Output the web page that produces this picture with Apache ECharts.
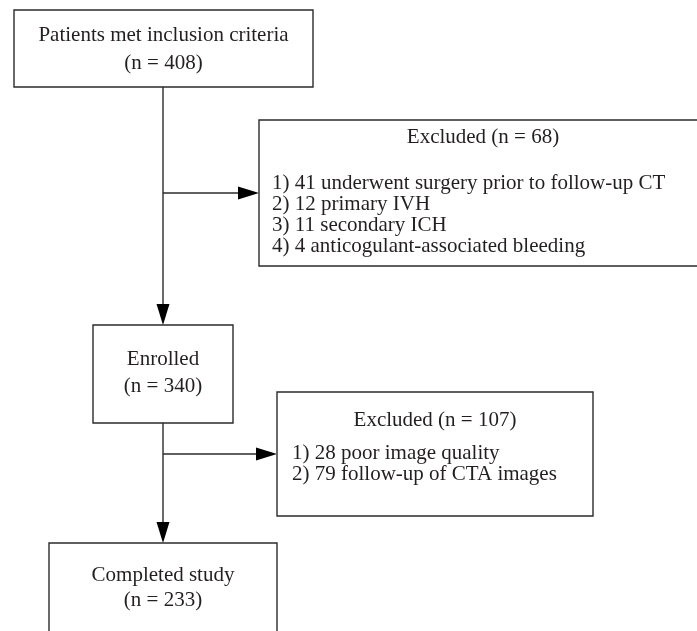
<!DOCTYPE html>
<html><head><meta charset="utf-8">
<script src="https://cdn.jsdelivr.net/npm/echarts@6/dist/echarts.min.js"></script>
<style>html,body{margin:0;padding:0;background:#fff}#c{width:697px;height:631px}</style>
</head><body><div id="c"></div>
<script>
// ---- data ----
const stageTitles = ['Patients met inclusion criteria', 'Enrolled', 'Completed study'];
const stageCounts = [408, 340, 233];
const excludedCounts = [68, 107];
const excl1Counts = [41, 12, 11, 4];
const excl1Labels = ['underwent surgery prior to follow-up CT', 'primary IVH', 'secondary ICH', 'anticogulant-associated bleeding'];
const excl2Counts = [28, 79];
const excl2Labels = ['poor image quality', 'follow-up of CTA images'];

// ---- layout (axis units = pixels) ----
const stageBoxes = [[14, 10, 313, 87], [93, 325, 233, 423], [49, 543, 277, 680]];
const stageTextY = [[35, 63], [359, 386], [575, 600]];
const exclBoxes = [[259, 120, 707, 266], [277, 392, 593, 516]];
const exclTitleY = [137, 420];
const exclItemX = [272, 292];
const exclItemY0 = [183, 453];
const itemStep = 21;
const spineX = 163;
const branchY = [193, 454];

const FONT = '21px "Liberation Serif", "DejaVu Serif", serif';
const TXT = '#231f20';
const LINE = '#2b2b2b';

function rectShape(api, b) {
  const p0 = api.coord([b[0], b[1]]), p1 = api.coord([b[2], b[3]]);
  return {x: p0[0], y: p0[1], width: p1[0] - p0[0], height: p1[1] - p0[1]};
}
function txt(api, s, x, y, align) {
  const p = api.coord([x, y]);
  return {type: 'text', style: {text: s, x: p[0], y: p[1], font: FONT, fill: TXT, align: align, verticalAlign: 'middle'}};
}

const boxItems = [];
stageTitles.forEach((t, i) => boxItems.push({kind: 'stage', i}));
excludedCounts.forEach((c, i) => boxItems.push({kind: 'excl', i}));

function renderBox(params, api) {
  const it = boxItems[params.dataIndex];
  const children = [];
  if (it.kind === 'stage') {
    const b = stageBoxes[it.i];
    children.push({type: 'rect', shape: rectShape(api, b), style: {fill: '#fff', stroke: LINE, lineWidth: 1.4}});
    const cx = (b[0] + b[2]) / 2;
    children.push(txt(api, stageTitles[it.i], cx, stageTextY[it.i][0], 'center'));
    children.push(txt(api, '(n = ' + stageCounts[it.i] + ')', cx, stageTextY[it.i][1], 'center'));
  } else {
    const b = exclBoxes[it.i];
    children.push({type: 'rect', shape: rectShape(api, b), style: {fill: '#fff', stroke: LINE, lineWidth: 1.4}});
    const cx = (b[0] + b[2]) / 2;
    children.push(txt(api, 'Excluded (n = ' + excludedCounts[it.i] + ')', cx, exclTitleY[it.i], 'center'));
    const counts = it.i === 0 ? excl1Counts : excl2Counts;
    const labels = it.i === 0 ? excl1Labels : excl2Labels;
    counts.forEach((c, k) => {
      children.push(txt(api, (k + 1) + ') ' + c + ' ' + labels[k], exclItemX[it.i], exclItemY0[it.i] + k * itemStep, 'left'));
    });
  }
  return {type: 'group', children};
}

// connectors: [from, to, arrow]
const links = [
  [[spineX, stageBoxes[0][3]], [spineX, stageBoxes[1][1]]],
  [[spineX, branchY[0]], [exclBoxes[0][0], branchY[0]]],
  [[spineX, stageBoxes[1][3]], [spineX, stageBoxes[2][1]]],
  [[spineX, branchY[1]], [exclBoxes[1][0], branchY[1]]]
];
function renderLink(params, api) {
  const l = links[params.dataIndex];
  const a = api.coord(l[0]), b = api.coord(l[1]);
  const dx = b[0] - a[0], dy = b[1] - a[1];
  const len = Math.hypot(dx, dy), ux = dx / len, uy = dy / len;
  const L = 21, W = 6.5;
  const bx = b[0] - ux * L, by = b[1] - uy * L;
  return {type: 'group', children: [
    {type: 'line', shape: {x1: a[0], y1: a[1], x2: bx, y2: by}, style: {stroke: LINE, lineWidth: 1.4}},
    {type: 'polygon', shape: {points: [[b[0], b[1]], [bx - uy * W, by + ux * W], [bx + uy * W, by - ux * W]]}, style: {fill: '#000'}}
  ]};
}

const chart = echarts.init(document.getElementById('c'), null, {renderer: 'canvas'});
chart.setOption({
  animation: false,
  backgroundColor: '#fff',
  grid: {left: 0, right: 0, top: 0, bottom: 0},
  xAxis: {type: 'value', min: 0, max: 697, show: false},
  yAxis: {type: 'value', min: 0, max: 631, inverse: true, show: false},
  series: [
    {type: 'custom', clip: false, renderItem: renderLink, data: links.map((l, i) => i), z: 1},
    {type: 'custom', clip: false, renderItem: renderBox, data: boxItems.map((b, i) => i), z: 2}
  ]
});
</script></body></html>
